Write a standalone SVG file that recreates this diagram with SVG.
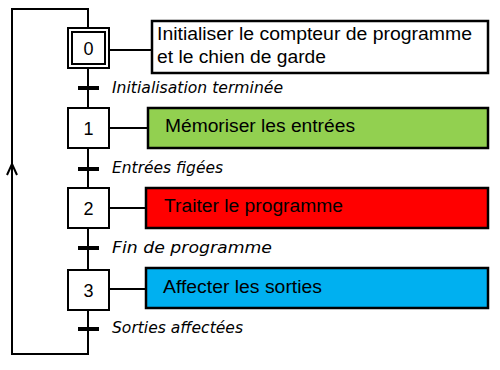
<svg xmlns="http://www.w3.org/2000/svg" width="500" height="370" viewBox="0 0 500 370">
<defs>
<style>
.ln{stroke:#000;stroke-width:2;fill:none}
.bar{stroke:#000;stroke-width:4}
.step{fill:#fff;stroke:#000;stroke-width:2}
.act{stroke:#000;stroke-width:2.5}
.num{font-family:"Liberation Sans",Arial,sans-serif;font-size:18px;text-anchor:middle;fill:#000}
.at{font-family:"Liberation Sans",Arial,sans-serif;font-size:17.5px;fill:#000}
.tr{font-family:"DejaVu Sans",Verdana,sans-serif;font-style:italic;font-size:15px;fill:#000}
</style>
</defs>
<g id="connectors">
<polyline class="ln" points="88,28 88,9 12,9 12,354 88,354 88,310"/>
<polyline class="ln" points="7,175 12,164 17,175"/>
<line class="ln" x1="88" y1="68" x2="88" y2="108"/>
<line class="ln" x1="88" y1="148" x2="88" y2="188"/>
<line class="ln" x1="88" y1="228" x2="88" y2="270"/>
<line class="ln" x1="109" y1="50" x2="152" y2="50"/>
<line class="ln" x1="109" y1="128" x2="148" y2="128"/>
<line class="ln" x1="109" y1="208" x2="146" y2="208"/>
<line class="ln" x1="109" y1="289" x2="146" y2="289"/>
</g>
<g id="t0"><line class="bar" x1="78" y1="88" x2="99" y2="88"/><text class="tr" x="112" y="93" textLength="171" lengthAdjust="spacingAndGlyphs">Initialisation terminée</text></g>
<g id="t1"><line class="bar" x1="78" y1="169" x2="99" y2="169"/><text class="tr" x="112" y="173" textLength="111" lengthAdjust="spacingAndGlyphs">Entrées figées</text></g>
<g id="t2"><line class="bar" x1="78" y1="248" x2="99" y2="248"/><text class="tr" x="112" y="253" textLength="160" lengthAdjust="spacingAndGlyphs">Fin de programme</text></g>
<g id="t3"><line class="bar" x1="78" y1="329" x2="99" y2="329"/><text class="tr" x="112" y="333" textLength="131" lengthAdjust="spacingAndGlyphs">Sorties affectées</text></g>
<g id="step0"><rect class="step" x="68" y="28" width="41" height="40"/><rect class="step" x="72" y="32" width="33" height="32" stroke-width="1.5"/><text class="num" x="88.5" y="55">0</text></g>
<g id="step1"><rect class="step" x="68" y="108" width="41" height="40"/><text class="num" x="88.5" y="135">1</text></g>
<g id="step2"><rect class="step" x="68" y="188" width="41" height="40"/><text class="num" x="88.5" y="215">2</text></g>
<g id="step3"><rect class="step" x="68" y="270" width="41" height="40"/><text class="num" x="88.5" y="297">3</text></g>
<g id="action0"><rect class="act" x="152" y="21" width="336" height="52" fill="#fff"/><text class="at" x="157" y="40" textLength="315" lengthAdjust="spacingAndGlyphs">Initialiser le compteur de programme</text><text class="at" x="157" y="63" textLength="169" lengthAdjust="spacingAndGlyphs">et le chien de garde</text></g>
<g id="action1"><rect class="act" x="148" y="108" width="340" height="40" fill="#92d050"/><text class="at" x="165" y="132" textLength="190" lengthAdjust="spacingAndGlyphs">Mémoriser les entrées</text></g>
<g id="action2"><rect class="act" x="146" y="188" width="342" height="40" fill="#ff0000"/><text class="at" x="164" y="212" textLength="179" lengthAdjust="spacingAndGlyphs">Traiter le programme</text></g>
<g id="action3"><rect class="act" x="146" y="268" width="342" height="40" fill="#00b0f0"/><text class="at" x="163" y="293" textLength="159" lengthAdjust="spacingAndGlyphs">Affecter les sorties</text></g>
</svg>
